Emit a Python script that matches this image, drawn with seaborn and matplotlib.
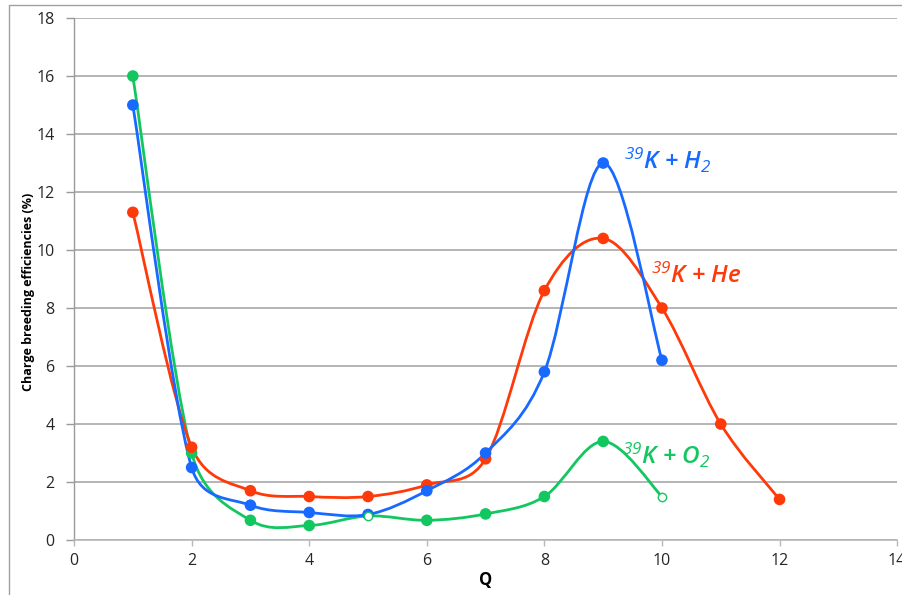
import numpy as np
import pandas as pd
import matplotlib
matplotlib.use("Agg")
import matplotlib.pyplot as plt
from matplotlib.path import Path
from matplotlib.patches import PathPatch
from matplotlib.lines import Line2D
import seaborn as sns

# Charge breeding efficiencies (%) versus charge state Q
q_h2 = [1, 2, 3, 4, 5, 6, 7, 8, 9, 10]
eff_h2 = [15.0, 2.5, 1.2, 0.95, 0.88, 1.7, 3.0, 5.8, 13.0, 6.2]

q_he = [1, 2, 3, 4, 5, 6, 7, 8, 9, 10, 11, 12]
eff_he = [11.3, 3.2, 1.7, 1.5, 1.5, 1.9, 2.8, 8.6, 10.4, 8.0, 4.0, 1.4]

q_o2 = [1, 2, 3, 4, 5, 6, 7, 8, 9, 10]
eff_o2 = [16.0, 3.0, 0.68, 0.5, 0.83, 0.68, 0.9, 1.5, 3.4, 1.5]
o2_open = [5, 10]  # charge states plotted with open markers

labels = {"H2": r"$^{\mathit{39}}$K + H$_{\mathit{2}}$",
          "He": r"$^{\mathit{39}}$K + He",
          "O2": r"$^{\mathit{39}}$K + O$_{\mathit{2}}$"}
colors = {"H2": "#1769FF", "He": "#FF3A0A", "O2": "#12C760"}

x_ticks = [0, 2, 4, 6, 8, 10, 12, 14]
y_ticks = [0, 2, 4, 6, 8, 10, 12, 14, 16, 18]

sns.set_theme(style="white")
plt.rcParams["font.family"] = ["Open Sans", "DejaVu Sans"]
plt.rcParams["mathtext.fontset"] = "custom"
plt.rcParams["mathtext.rm"] = "Open Sans:italic"
plt.rcParams["mathtext.it"] = "Open Sans:italic"

fig = plt.figure(figsize=(9.03, 5.95), dpi=100)
ax = fig.add_axes([0.082, 0.0924, 0.9115, 0.8773])
ax.set_xlim(0, 14)
ax.set_ylim(0, 18)

frames = []
for key, q, e in (("O2", q_o2, eff_o2), ("He", q_he, eff_he), ("H2", q_h2, eff_h2)):
    frames.append(pd.DataFrame({"Q": q, "eff": e, "series": key}))
df = pd.concat(frames, ignore_index=True)


def smooth_path(xs, ys):
    """Spreadsheet-style smoothed line: cubic Bezier segments whose control
    points follow neighbour chords (1/6) but never reach past half the
    segment length, computed in screen space."""
    to_px = ax.transData
    pts = to_px.transform(np.column_stack([xs, ys]).astype(float))
    ext = np.vstack([pts[0], pts, pts[-1]])
    verts = [pts[0]]
    codes = [Path.MOVETO]
    for i in range(len(pts) - 1):
        p0, p1, p2, p3 = ext[i], ext[i + 1], ext[i + 2], ext[i + 3]
        d12 = np.hypot(*(p2 - p1))
        d02 = np.hypot(*(p2 - p0))
        d13 = np.hypot(*(p3 - p1))
        f1 = 1 / 6 if d02 / 6 < d12 / 2 else d12 / (2 * d02)
        f2 = 1 / 6 if d13 / 6 < d12 / 2 else d12 / (2 * d13)
        c1 = p1 + (p2 - p0) * f1
        c2 = p2 - (p3 - p1) * f2
        verts += [c1, c2, p2]
        codes += [Path.CURVE4] * 3
    verts = to_px.inverted().transform(np.array(verts))
    return Path(verts, codes)


# smoothed connecting curves
for key in ("O2", "He", "H2"):
    sub = df[df.series == key]
    patch = PathPatch(smooth_path(sub.Q.values, sub.eff.values), facecolor="none",
                      edgecolor=colors[key], lw=2.0, transform=ax.transData,
                      zorder=3, capstyle="round", joinstyle="round")
    ax.add_patch(patch)

# markers
open_mask = (df.series == "O2") & (df.Q.isin(o2_open))
sns.scatterplot(data=df[~open_mask], x="Q", y="eff", hue="series",
                hue_order=["O2", "He", "H2"], palette=colors, s=70,
                edgecolor="none", legend=False, ax=ax, zorder=4)
sub_open = df[open_mask]
ax.scatter(sub_open.Q, sub_open.eff, s=36, facecolor="white",
           edgecolor=colors["O2"], linewidth=1.0, zorder=5)

ax.set_xlim(0, 14)
ax.set_ylim(0, 18)
ax.set_xticks(x_ticks)
ax.set_yticks(y_ticks)
ax.set_xticklabels([str(t) for t in x_ticks])
ax.set_yticklabels([str(t) for t in y_ticks])

ax.grid(axis="y", color="#a8a8a8", lw=1.2)
ax.grid(axis="x", visible=False)
ax.set_axisbelow(True)
for side in ("top", "right"):
    ax.spines[side].set_visible(False)
ax.spines["left"].set_color("#9a9a9a")
ax.spines["bottom"].set_color("#b8b8b8")
ax.spines["left"].set_linewidth(1.0)
ax.spines["bottom"].set_linewidth(1.2)
ax.tick_params(axis="y", which="major", left=True, length=6, width=1.0,
               color="#9a9a9a", labelsize=11.5, labelcolor="#262626", pad=8)
ax.tick_params(axis="x", which="major", bottom=True, length=4, width=1.0,
               color="#b8b8b8", labelsize=11.5, labelcolor="#262626", pad=5)

ax.set_xlabel("Q", fontsize=12, fontweight="bold", color="black", labelpad=2)
ax.set_ylabel("Charge breeding efficiencies (%)", fontsize=9, fontweight="bold",
              color="black")
ax.yaxis.set_label_coords(-0.048, 0.475)

ax.text(9.35, 13.1, labels["H2"], color=colors["H2"], fontsize=17.5,
        fontstyle="italic", fontweight="semibold", ha="left", va="center")
ax.text(9.82, 9.1, labels["He"], color=colors["He"], fontsize=17.5,
        fontstyle="italic", fontweight="semibold", ha="left", va="center")
ax.text(9.32, 2.9, labels["O2"], color=colors["O2"], fontsize=17.5,
        fontstyle="italic", fontweight="semibold", ha="left", va="center")

# chart area frame
fig.add_artist(Line2D([9 / 903, 1.0], [1 - 5 / 595, 1 - 5 / 595],
                      transform=fig.transFigure, color="#a0a0a0", lw=1.0))
fig.add_artist(Line2D([9 / 903, 9 / 903], [0.0, 1 - 5 / 595],
                      transform=fig.transFigure, color="#a0a0a0", lw=1.0))

fig.savefig("out.png", dpi=100)
